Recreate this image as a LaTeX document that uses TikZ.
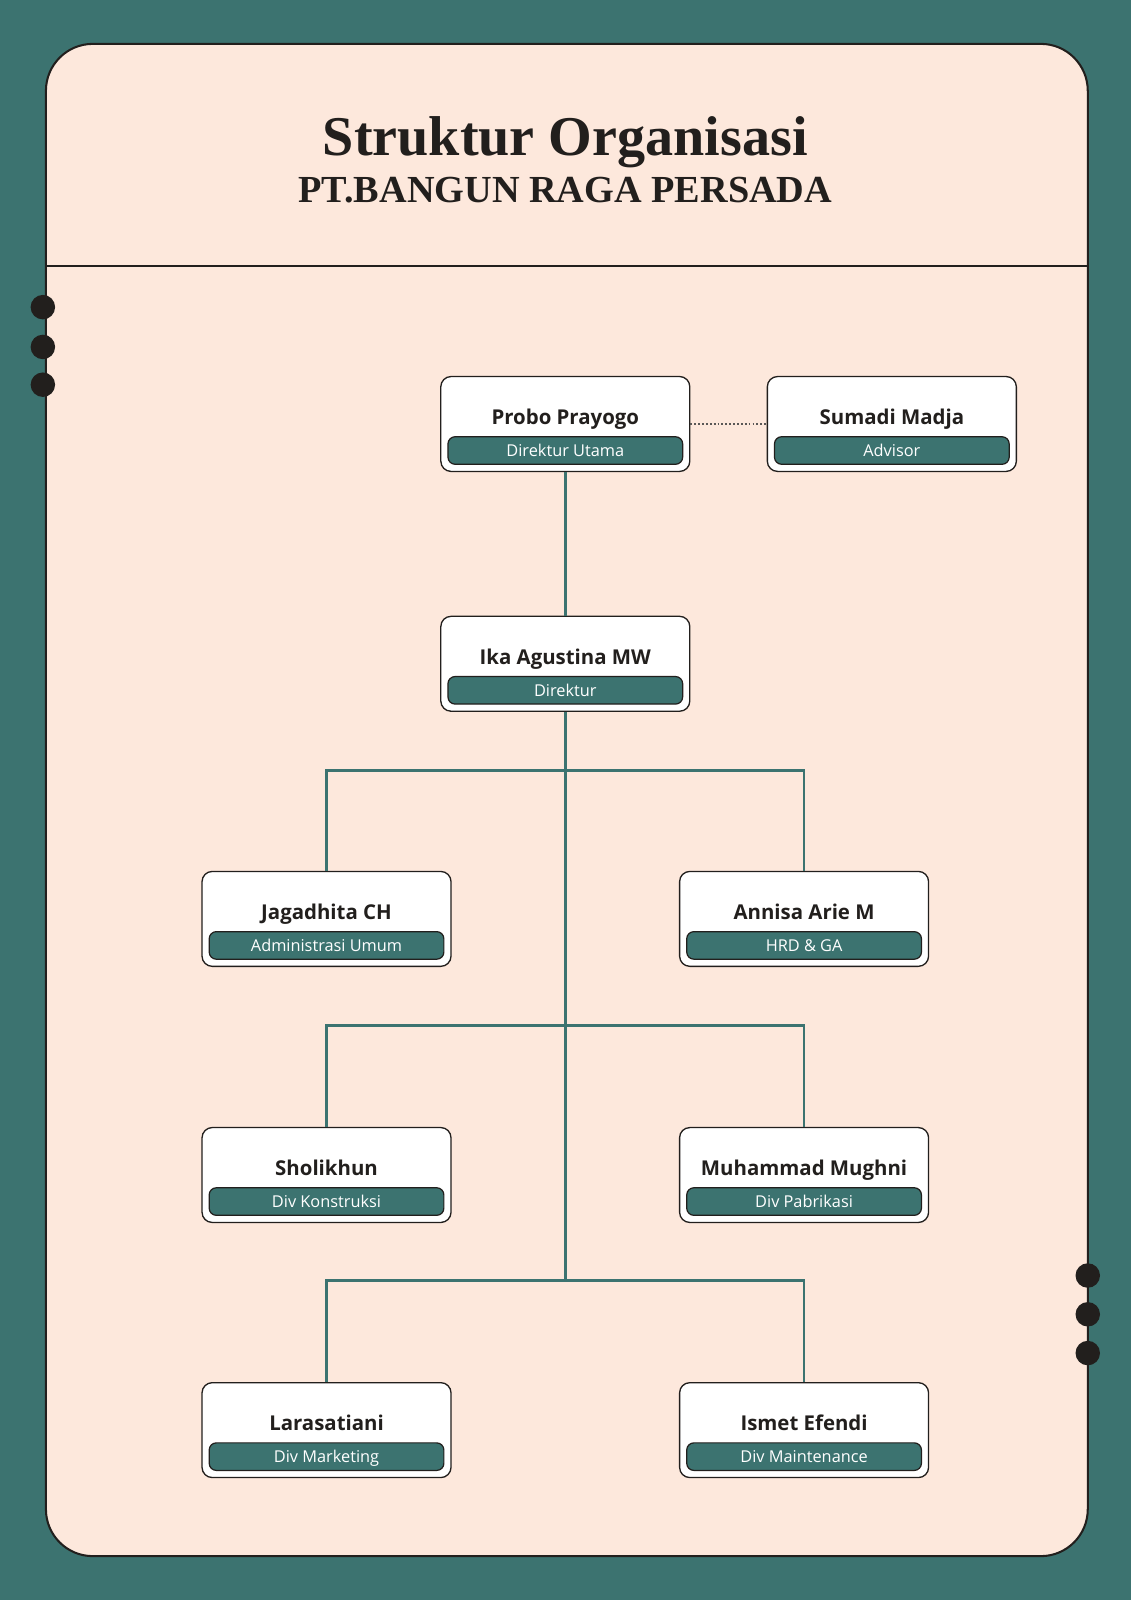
\documentclass[tikz,border=0pt]{standalone}
\usepackage{fontspec}
\setmainfont{Liberation Serif}
\newfontfamily\namefont{Open Sans}
\definecolor{teal}{HTML}{3C7370}
\definecolor{peach}{HTML}{FDE8DC}
\definecolor{ink}{HTML}{221F1D}
\tikzset{
  card/.style={draw=ink, line width=1.3pt, fill=white, rounded corners=10pt, minimum width=244pt, minimum height=93pt, inner sep=0pt},
  nametext/.style={font=\namefont\bfseries\fontsize{20}{22}\selectfont, text=ink, inner sep=0pt, anchor=base},
  rolebar/.style={draw=ink, line width=1.2pt, fill=teal, rounded corners=7pt, minimum width=230pt, minimum height=27pt, inner sep=0pt},
  roletext/.style={text=white, font=\namefont\fontsize{16}{18}\selectfont, inner sep=0pt, anchor=base},
  link/.style={draw=teal, line width=2.4pt},
  dotlink/.style={draw=ink!75, line width=1.8pt, dash pattern=on 1.8pt off 2pt},
  holedot/.style={fill=ink, draw=none, circle, minimum size=24pt, inner sep=0pt}
}
\newcommand{\person}[5]{%
  \node[card] (#1) at (#2,#3+46.5) {};
  \node[nametext] (#1-n) at (#2,#3+47) {#4};
  \node[rolebar] (#1-r) at (#2,#3+72.5) {};
  \node[roletext] (#1-t) at (#2,#3+78.5) {#5};
}
\begin{document}
\begin{tikzpicture}[x=1pt,y=-1pt]
\useasboundingbox (0,0) rectangle (1108,1568);
\fill[teal] (0,0) rectangle (1108,1568);
% card
\node[draw=ink, line width=2pt, fill=peach, rounded corners=46pt, minimum width=1021pt, minimum height=1482pt, inner sep=0pt] (frame) at (555.5,784) {};
\coordinate (hl) at (45,261);
\coordinate (hr) at (1066,261);
\draw[ink, line width=2pt] (hl) -- (hr);
% binder dots
\foreach \i/\yy in {1/301,2/340,3/377}{\node[holedot] (ld\i) at (42,\yy) {};}
\foreach \i/\yy in {1/1250,2/1288,3/1326}{\node[holedot] (rd\i) at (1066,\yy) {};}
% title
\node[font=\bfseries\fontsize{55}{60}\selectfont, text=ink, anchor=base, inner sep=0pt] (title) at (554,152) {Struktur Organisasi};
\node[font=\bfseries\fontsize{37.5}{40}\selectfont, text=ink, anchor=base, inner sep=0pt] (subtitle) at (554,198) {PT.BANGUN RAGA PERSADA};
% people
\person{probo}{554}{369}{Probo Prayogo}{Direktur Utama}
\person{sumadi}{874}{369}{Sumadi Madja}{Advisor}
\person{ika}{554}{604}{Ika Agustina MW}{Direktur}
\person{jag}{320}{854}{Jagadhita CH}{Administrasi Umum}
\person{ann}{788}{854}{Annisa Arie M}{HRD \& GA}
\person{sho}{320}{1105}{Sholikhun}{Div Konstruksi}
\person{muh}{788}{1105}{Muhammad Mughni}{Div Pabrikasi}
\person{lar}{320}{1355}{Larasatiani}{Div Marketing}
\person{ism}{788}{1355}{Ismet Efendi}{Div Maintenance}
% connectors
\coordinate (b1) at (554,755);
\coordinate (b2) at (554,1005);
\coordinate (b3) at (554,1255);
\draw[link] (probo.south) -- (ika.north);
\draw[link] (ika.south) -- (b3);
\draw[link] (jag.north) |- (b1) -| (ann.north);
\draw[link] (sho.north) |- (b2) -| (muh.north);
\draw[link] (lar.north) |- (b3) -| (ism.north);
\draw[dotlink] (probo.east) -- (sumadi.west);
\end{tikzpicture}
\end{document}
